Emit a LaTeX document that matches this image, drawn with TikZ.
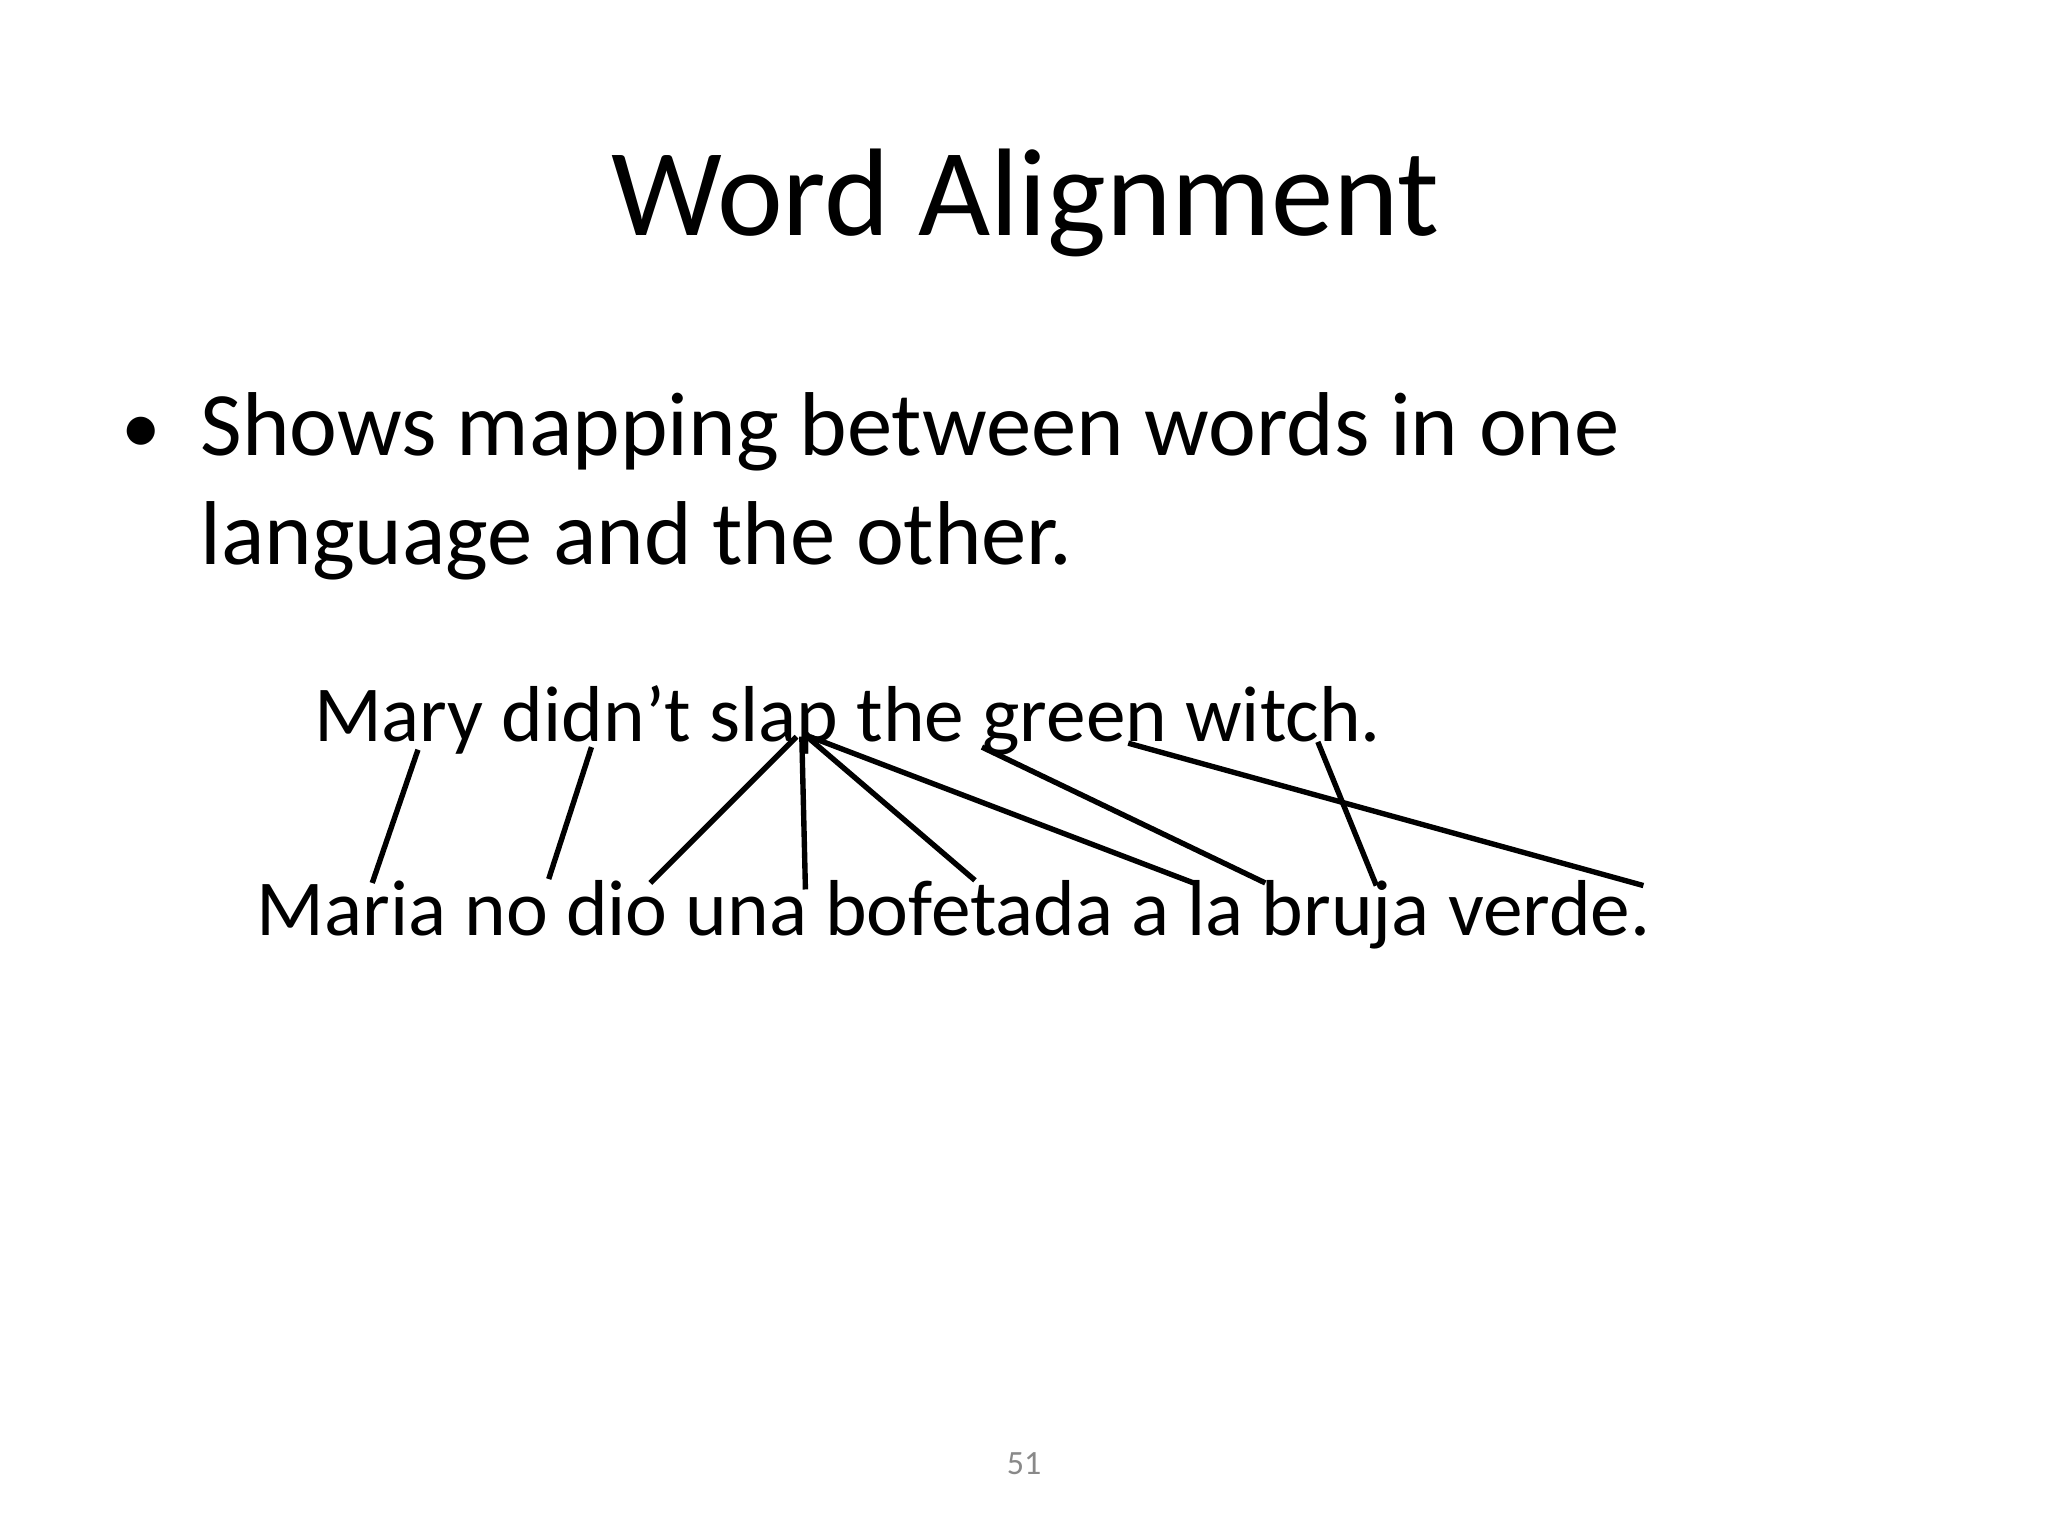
\documentclass[tikz,border=0pt]{standalone}
\usepackage{fontspec}
\setmainfont{Carlito}
\usepackage{tikz}
\usetikzlibrary{%
  positioning%
}
\definecolor{pagenum}{RGB}{137,137,137}
\tikzset{%
  word/.style={inner sep=0pt,font=\fontsize{28}{34}\selectfont},
  link/.style={line width=1.9pt,line cap=butt}
}
\newcommand{\wsp}{6pt}

\begin{document}
\begin{tikzpicture}[x=0.0162cm,y=-0.0162cm]
      \useasboundingbox[fill=white] (0,0) rectangle (1568,1176);
      \node[inner sep=0pt,anchor=base,font=\fontsize{44}{53}\selectfont] (title) at (785,180) {Word Alignment};
      \node[inner sep=0pt,anchor=base,font=\fontsize{28}{34}\selectfont] (dot) at (108,347) {\textbullet};
      \node[inner sep=0pt,anchor=base west,align=left,font=\fontsize{32}{38.4}\selectfont] (point) at (153,432)
        {Shows mapping between words in one\\language and the other.};
      %% english
      \node[word,anchor=base west] (mary) at (240,568) {Mary};
      \node[word,right=\wsp of mary.base east,anchor=base west] (didnt) {didn’t};
      \node[word,right=\wsp of didnt.base east,anchor=base west] (slap) {slap};
      \node[word,right=\wsp of slap.base east,anchor=base west] (the) {the};
      \node[word,right=\wsp of the.base east,anchor=base west] (green) {green};
      \node[word,right=\wsp of green.base east,anchor=base west] (witch) {witch.};
      %% spanish
      \node[word,anchor=base west] (maria) at (196,716) {Maria};
      \node[word,right=\wsp of maria.base east,anchor=base west] (no) {no};
      \node[word,right=\wsp of no.base east,anchor=base west] (dio) {dio};
      \node[word,right=\wsp of dio.base east,anchor=base west] (una) {una};
      \node[word,right=\wsp of una.base east,anchor=base west] (bofetada) {bofetada};
      \node[word,right=\wsp of bofetada.base east,anchor=base west] (a) {a};
      \node[word,right=\wsp of a.base east,anchor=base west] (la) {la};
      \node[word,right=\wsp of la.base east,anchor=base west] (bruja) {bruja};
      \node[word,right=\wsp of bruja.base east,anchor=base west] (verde) {verde.};
      %% alignment links
      \draw[link] ([shift={(80,6)}]mary.base west) -- ([shift={(89,-40)}]maria.base west);
      \draw[link] ([shift={(69,4)}]didnt.base west) -- ([shift={(65,-43)}]no.base west);
      \draw[link] ([shift={(67,-4)}]slap.base west) -- ([shift={(65,-40)}]dio.base west);
      \draw[link] ([shift={(71,-4)}]slap.base west) -- ([shift={(92,-35)}]una.base west);
      \draw[link] ([shift={(75,-4)}]slap.base west) -- ([shift={(115,-42)}]bofetada.base west);
      \draw[link] ([shift={(77,-4)}]slap.base west) -- ([shift={(5,-40)}]la.base west);
      \draw[link] ([shift={(0,4)}]green.base west) -- ([shift={(3,-40)}]bruja.base west);
      \draw[link] ([shift={(112,1)}]green.base west) -- ([shift={(150,-38)}]verde.base west);
      \draw[link] ([shift={(102,0)}]witch.base west) -- ([shift={(88,-38)}]bruja.base west);
      \node[inner sep=0pt,anchor=base,text=pagenum,font=\fontsize{12}{14}\selectfont] (page) at (784,1129) {51};
    \end{tikzpicture}
\end{document}
